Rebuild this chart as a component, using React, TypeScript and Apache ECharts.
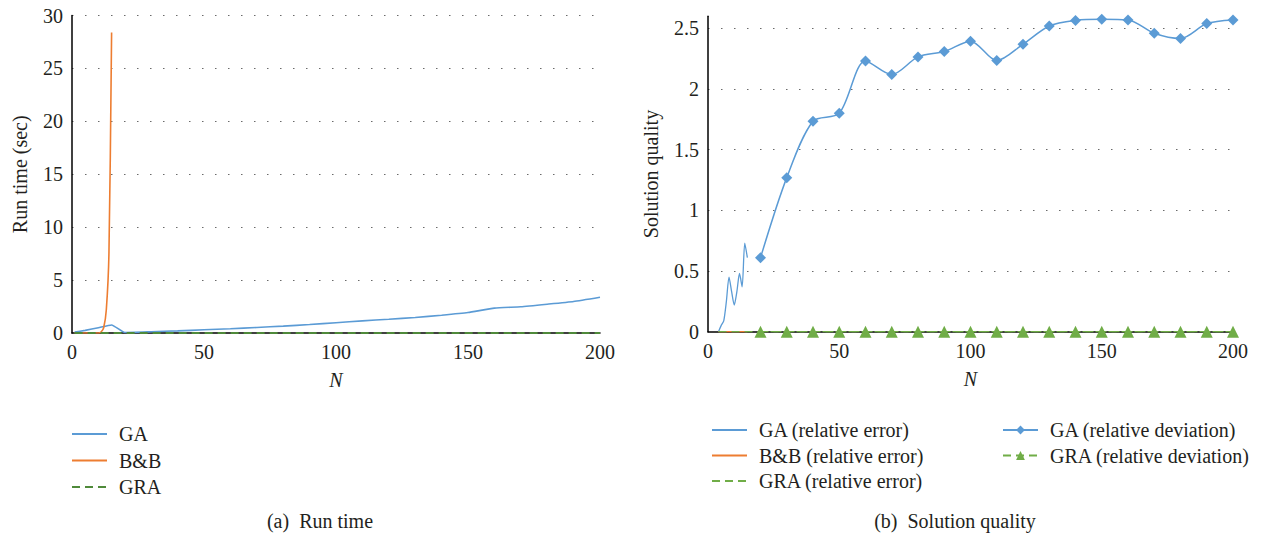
import React, { useEffect, useRef } from "react";
import * as echarts from "echarts";

// ---------- Data: (a) Run time ----------
const RUN_GA_N = [1, 5, 10, 15, 20, 30, 40, 50, 60, 70, 80, 90, 100, 110, 120, 130, 140, 150, 160, 170, 180, 190, 200];
const RUN_GA = [0.08, 0.25, 0.5, 0.76, 0.05, 0.12, 0.2, 0.3, 0.4, 0.52, 0.65, 0.8, 0.97, 1.15, 1.3, 1.47, 1.68, 1.93, 2.35, 2.48, 2.72, 2.98, 3.38];
const RUN_BB_N = [1, 2, 3, 4, 5, 6, 7, 8, 9, 10, 11, 12, 13, 14, 15];
const RUN_BB = [0, 0, 0, 0, 0, 0, 0, 0, 0, 0, 0.1, 0.5, 2.2, 7.6, 28.4];
const RUN_GRA_N = [1, 50, 100, 150, 200];
const RUN_GRA = [0, 0, 0, 0, 0];

// ---------- Data: (b) Solution quality ----------
const ERR_N = [4, 5, 6, 7, 8, 9, 10, 11, 12, 13, 14, 15];
const GA_ERR = [0, 0.05, 0.09, 0.25, 0.45, 0.33, 0.22, 0.33, 0.48, 0.37, 0.73, 0.61];
const BB_ERR = [0, 0, 0, 0, 0, 0, 0, 0, 0, 0, 0, 0];
const GRA_ERR_N = [4, 15, 20, 50, 100, 150, 200];
const GRA_ERR = [0, 0, 0, 0, 0, 0, 0];
const DEV_N = [20, 30, 40, 50, 60, 70, 80, 90, 100, 110, 120, 130, 140, 150, 160, 170, 180, 190, 200];
const GA_DEV = [0.61, 1.27, 1.735, 1.8, 2.232, 2.12, 2.265, 2.31, 2.395, 2.235, 2.37, 2.52, 2.566, 2.575, 2.57, 2.46, 2.417, 2.54, 2.57];
const GRA_DEV = [0, 0, 0, 0, 0, 0, 0, 0, 0, 0, 0, 0, 0, 0, 0, 0, 0, 0, 0];

const BLUE = "#5B9BD5";
const ORANGE = "#ED7D31";
const GREEN = "#70AD47";
const DARKGREEN = "#4F8A3A";
const FONT = "Liberation Serif";
const TXT = "#231f20";
const FS = 20;

const pairs = (xs: number[], ys: number[]) => xs.map((x, i) => [x, ys[i]]);

export default function App() {
  const ref = useRef<HTMLDivElement>(null);
  useEffect(() => {
    document.body.style.margin = "0";
    const chart = echarts.init(ref.current!, undefined, { renderer: "svg" });
    const splitLine = {
      show: true,
      showMinLine: false,
      showMaxLine: true,
      lineStyle: { color: "#6a6a6a", width: 1.2, type: [1.5, 11.5] },
    };
    const axisLine = { show: true, onZero: false, lineStyle: { color: "#000", width: 1.5 } };
    const axisLabel = { color: TXT, fontFamily: FONT, fontSize: FS, margin: 9 };
    const nameText = { color: TXT, fontFamily: FONT, fontSize: FS };
    const legendBase = {
      orient: "vertical",
      itemWidth: 35,
      itemHeight: 11,
      itemGap: 6.5,
      textStyle: { color: TXT, fontFamily: FONT, fontSize: FS, padding: [0, 0, 0, 7] },
      inactiveColor: "#ccc",
    };
    const plain = (name: string) => ({ name, itemStyle: { opacity: 0 } });
    chart.setOption({
      animation: false,
      backgroundColor: "#fff",
      textStyle: { fontFamily: FONT },
      grid: [
        { left: 72, top: 15.5, width: 528, height: 317.5 },
        { left: 708, top: 16.3, width: 525, height: 315.4 },
      ],
      xAxis: [
        {
          type: "value", gridIndex: 0, min: 0, max: 200, interval: 50,
          axisLine, axisTick: { show: false }, axisLabel, splitLine: { show: false },
          name: "N", nameLocation: "middle", nameGap: 37,
          nameTextStyle: { ...nameText, fontStyle: "italic" },
        },
        {
          type: "value", gridIndex: 1, min: 0, max: 200, interval: 50,
          axisLine, axisTick: { show: false }, axisLabel, splitLine: { show: false },
          name: "N", nameLocation: "middle", nameGap: 37,
          nameTextStyle: { ...nameText, fontStyle: "italic" },
        },
      ],
      yAxis: [
        {
          type: "value", gridIndex: 0, min: 0, max: 30, interval: 5,
          axisLine, axisTick: { show: false }, axisLabel, splitLine,
          name: "Run time (sec)", nameLocation: "middle", nameGap: 42, nameTextStyle: nameText,
        },
        {
          type: "value", gridIndex: 1, min: 0, max: 2.6, interval: 0.5,
          axisLine, axisTick: { show: false },
          axisLabel: { ...axisLabel, showMaxLabel: false },
          splitLine: { ...splitLine, showMaxLine: false },
          name: "Solution quality", nameLocation: "middle", nameGap: 47, nameTextStyle: nameText,
        },
      ],
      legend: [
        { ...legendBase, left: 66, top: 419, data: [plain("GA"), plain("B&B"), plain("GRA")] },
        { ...legendBase, itemGap: 5.5, left: 706, top: 415, data: [plain("GA (relative error)"), plain("B&B (relative error)"), plain("GRA (relative error)")] },
        { ...legendBase, itemGap: 5.5, left: 997, top: 415, data: ["GA (relative deviation)", "GRA (relative deviation)"] },
      ],
      graphic: [
        {
          type: "text", x: 320, y: 521,
          style: { text: "(a)  Run time", fill: TXT, fontFamily: FONT, fontSize: FS, align: "center", verticalAlign: "middle" },
        },
        {
          type: "text", x: 955, y: 521,
          style: { text: "(b)  Solution quality", fill: TXT, fontFamily: FONT, fontSize: FS, align: "center", verticalAlign: "middle" },
        },
      ],
      series: [
        {
          name: "GA", type: "line", xAxisIndex: 0, yAxisIndex: 0, data: pairs(RUN_GA_N, RUN_GA),
          symbol: "none", smooth: 0.15, color: BLUE, lineStyle: { color: BLUE, width: 1.6 },
        },
        {
          name: "B&B", type: "line", xAxisIndex: 0, yAxisIndex: 0, data: pairs(RUN_BB_N, RUN_BB),
          symbol: "none", smooth: 0.3, color: ORANGE, lineStyle: { color: ORANGE, width: 1.6 },
        },
        {
          name: "GRA", type: "line", xAxisIndex: 0, yAxisIndex: 0, data: pairs(RUN_GRA_N, RUN_GRA),
          symbol: "none", color: DARKGREEN, lineStyle: { color: DARKGREEN, width: 1.8, type: [8, 5] },
        },
        {
          name: "GA (relative error)", type: "line", xAxisIndex: 1, yAxisIndex: 1, data: pairs(ERR_N, GA_ERR),
          symbol: "none", smooth: 0.25, color: BLUE, lineStyle: { color: BLUE, width: 1.3 },
        },
        {
          name: "B&B (relative error)", type: "line", xAxisIndex: 1, yAxisIndex: 1, data: pairs(ERR_N, BB_ERR),
          symbol: "none", color: ORANGE, lineStyle: { color: ORANGE, width: 1.6 },
        },
        {
          name: "GRA (relative error)", type: "line", xAxisIndex: 1, yAxisIndex: 1, data: pairs(GRA_ERR_N, GRA_ERR),
          symbol: "none", color: GREEN, lineStyle: { color: GREEN, width: 1.6, type: [8, 5] },
        },
        {
          name: "GA (relative deviation)", type: "line", xAxisIndex: 1, yAxisIndex: 1, data: pairs(DEV_N, GA_DEV),
          symbol: "diamond", symbolSize: 11, smooth: 0.3, color: BLUE,
          itemStyle: { color: BLUE }, lineStyle: { color: BLUE, width: 1.5 },
        },
        {
          name: "GRA (relative deviation)", type: "line", xAxisIndex: 1, yAxisIndex: 1, data: pairs(DEV_N, GRA_DEV),
          symbol: "triangle", symbolSize: 12, color: GREEN,
          itemStyle: { color: GREEN }, lineStyle: { color: GREEN, width: 1.6, type: [8, 5] },
        },
      ],
    });
    return () => chart.dispose();
  }, []);
  return <div ref={ref} style={{ width: 1265, height: 534 }} />;
}
